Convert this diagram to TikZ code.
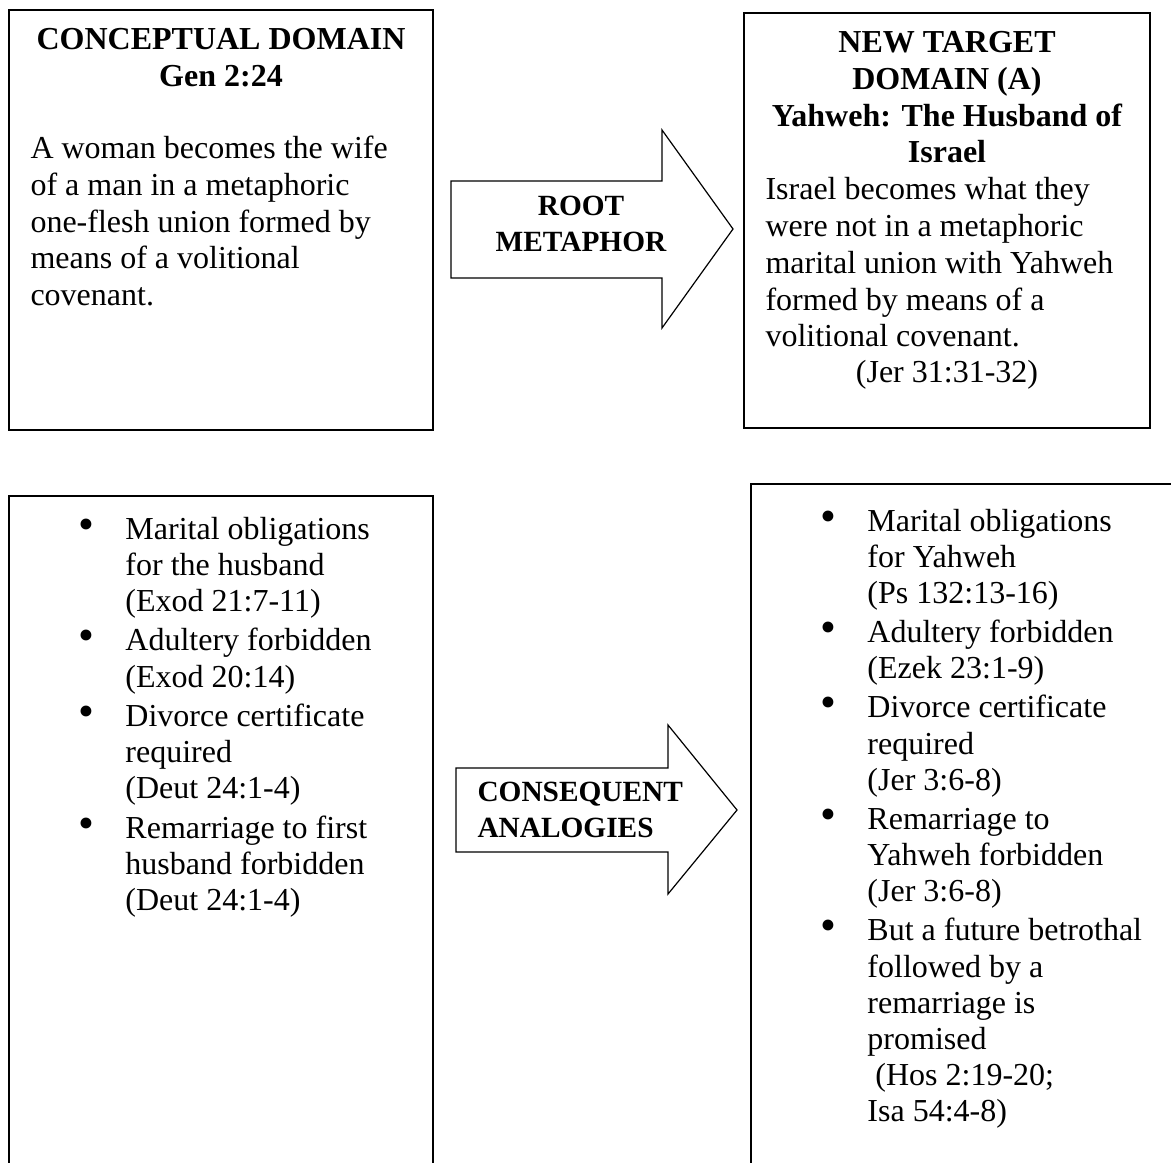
\documentclass[tikz,border=0pt]{standalone}
\usepackage{fontspec}
\setmainfont{Liberation Serif}
\newcommand\bul{{\fontsize{17}{13}\selectfont •}}
% one bullet item with a hanging indent; lines inside are split by \newline
\newcommand\itm[1]{\hangindent=17.6pt\hangafter=1\noindent\makebox[17.6pt][l]{\bul}#1\par}
\begin{document}
\begin{tikzpicture}[x=0.375pt,y=-0.375pt,
  frame/.style={draw, line width=0.75pt},
  blockarrow/.style={draw, line width=0.45pt, line join=miter},
  txt/.style={inner sep=0pt, font=\fontsize{12}{13.75}\selectfont},
  listtxt/.style={inner sep=0pt, font=\fontsize{12}{13.575}\selectfont},
  arrowtxt/.style={inner sep=0pt, font=\fontsize{11}{13.5}\selectfont\bfseries}]
\useasboundingbox (0,0) rectangle (1171,1162);
\clip (0,0) rectangle (1171,1162);

% frames
\draw[frame] (9,10) rectangle (433,430);
\draw[frame] (744,13) rectangle (1150,428);
\draw[frame] (9,1200) -- (9,496) -- (433,496) -- (433,1200);
\draw[frame] (751,1200) -- (751,484) -- (1200,484);

% source domain
\node[txt, anchor=base] (srchead) at (221,50)
  {\parbox[t]{400pt}{\centering\bfseries CONCEPTUAL DOMAIN\\Gen 2:24}};
\node[txt, anchor=base west] (srcbody) at (30,159)
  {\parbox[t]{150pt}{\raggedright A woman becomes the wife\\of a man in a metaphoric\\one-flesh union formed by\\means of a volitional\\covenant.}};

% target domain
\node[txt, anchor=base] (tgthead) at (947,53)
  {\parbox[t]{150pt}{\centering\bfseries NEW TARGET\\DOMAIN (A)\\Yahweh: The Husband of\\Israel}};
\node[txt, anchor=base west] (tgtbody) at (765,200)
  {\parbox[t]{150pt}{\raggedright Israel becomes what they\\were not in a metaphoric\\marital union with Yahweh\\formed by means of a\\volitional covenant.}};
\node[txt, anchor=base] (tgtref) at (947,382) {(Jer 31:31-32)};

% block arrows
\draw[blockarrow] (451,181) -- (662,181) -- (662,130) -- (733,229)
  -- (662,328) -- (662,278) -- (451,278) -- cycle;
\node[arrowtxt, anchor=base] (rootlbl) at (581,215)
  {\parbox[t]{80pt}{\centering ROOT\\METAPHOR}};

\draw[blockarrow] (456,768) -- (668,768) -- (668,725) -- (737,810)
  -- (668,894) -- (668,852) -- (456,852) -- cycle;
\node[arrowtxt, anchor=base west] (conslbl) at (477,801)
  {\parbox[t]{80pt}{\raggedright CONSEQUENT\\ANALOGIES}};

% analogies in the source domain
\node[listtxt, anchor=base west] (srclist) at (78,539)
  {\parbox[t]{140pt}{\raggedright\setlength\parskip{1.2pt}%
  \itm{Marital obligations\newline for the husband\newline (Exod 21:7-11)}%
  \itm{Adultery forbidden\newline (Exod 20:14)}%
  \itm{Divorce certificate\newline required\newline (Deut 24:1-4)}%
  \itm{Remarriage to first\newline husband forbidden\newline (Deut 24:1-4)}}};

% analogies in the target domain
\node[listtxt, anchor=base west] (tgtlist) at (820,531)
  {\parbox[t]{140pt}{\raggedright\setlength\parskip{1.1pt}%
  \itm{Marital obligations\newline for Yahweh\newline (Ps 132:13-16)}%
  \itm{Adultery forbidden\newline (Ezek 23:1-9)}%
  \itm{Divorce certificate\newline required\newline (Jer 3:6-8)}%
  \itm{Remarriage to\newline Yahweh forbidden\newline (Jer 3:6-8)}%
  \itm{But a future betrothal\newline followed by a\newline remarriage is\newline promised\newline \hspace*{3pt}(Hos 2:19-20;\newline Isa 54:4-8)}}};
\end{tikzpicture}
\end{document}
